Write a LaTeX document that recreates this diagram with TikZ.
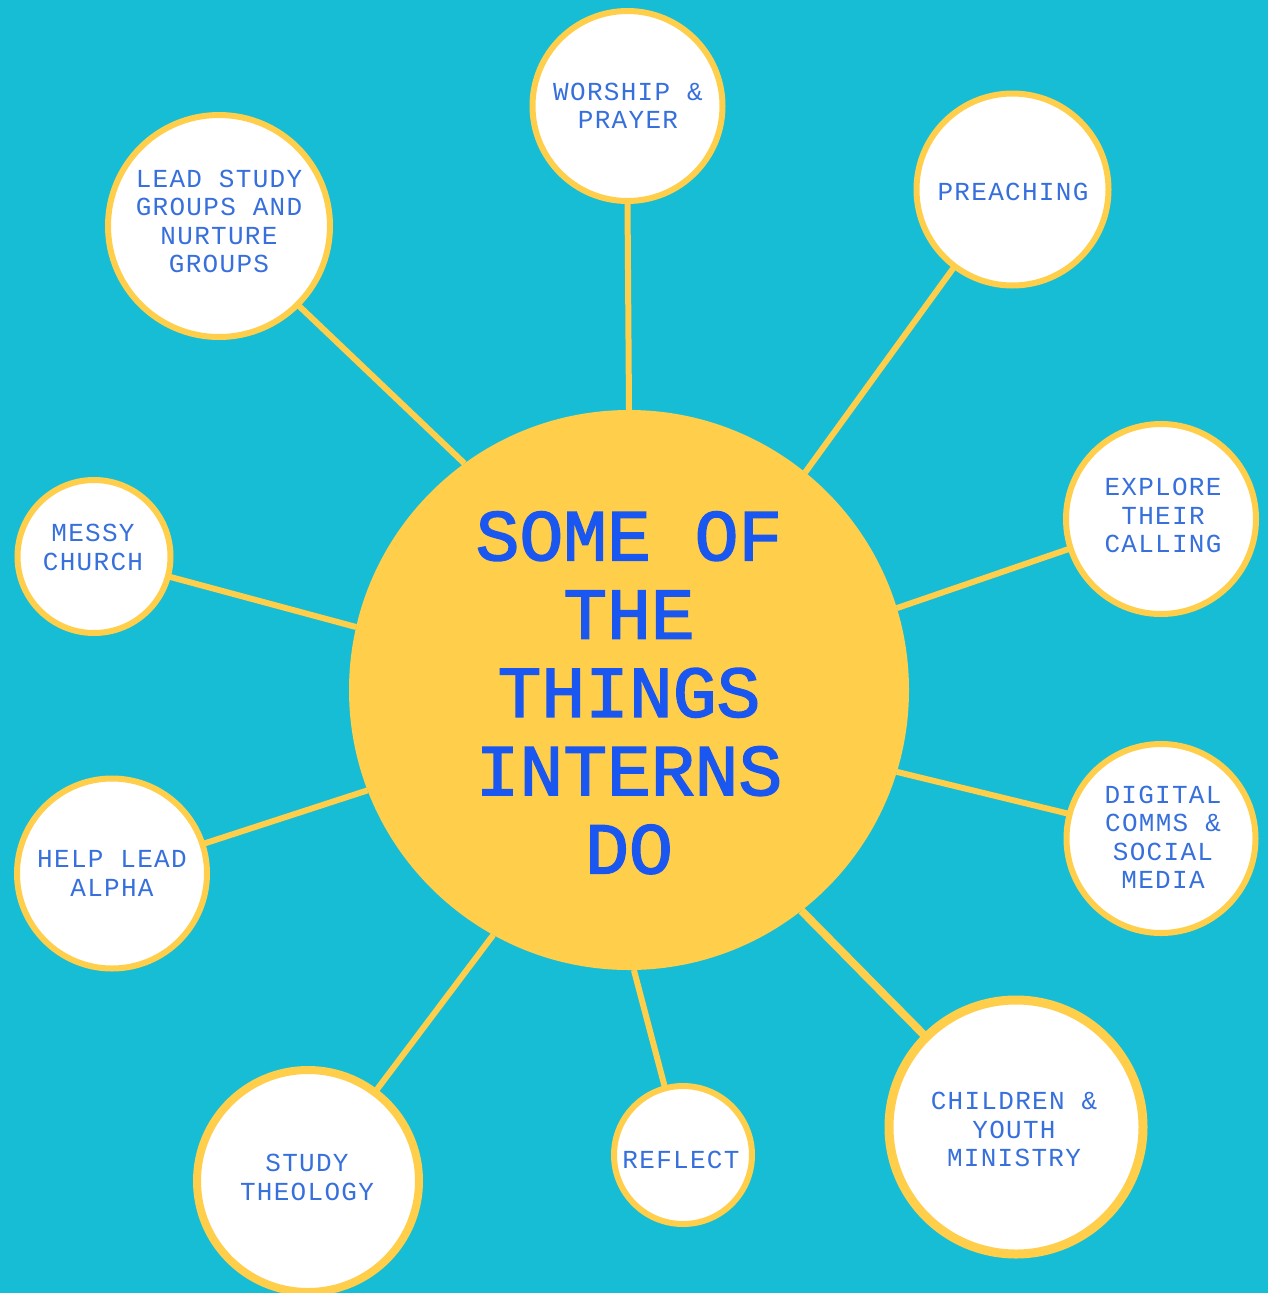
\documentclass[tikz,border=0pt]{standalone}
\usepackage{fontspec}
\newfontfamily\smallmono[LetterSpace=5]{Liberation Mono}
\newfontfamily\bigmono[FakeBold=2]{Liberation Mono}
\definecolor{bgc}{RGB}{23,189,212}
\definecolor{sun}{RGB}{255,206,75}
\definecolor{ink}{RGB}{55,112,220}
\definecolor{deep}{RGB}{25,87,240}
\pgfdeclarelayer{back}
\pgfsetlayers{back,main}
\begin{document}
\begin{tikzpicture}[x=1pt,y=-1pt,
  item/.style={circle, draw=sun, fill=white, line width=6pt, inner sep=0pt, outer sep=0pt},
  txt/.style={inner sep=0pt, text=ink, align=center, font=\smallmono\fontsize{26}{28.5}\selectfont},
  hub/.style={circle, fill=sun, inner sep=0pt, outer sep=0pt, minimum size=560pt},
  hubtxt/.style={inner sep=0pt, text=deep, align=center, font=\bigmono\fontsize{73}{78.3}\selectfont},
  spoke/.style={draw=sun, line width=6pt}]
\useasboundingbox (0,0) rectangle (1268,1293);

\node[hub] (hub) at (629,690) {};
\node[hubtxt] (hubt) at (629,692.8) {SOME OF\\THE\\THINGS\\INTERNS\\DO};

\node[item, minimum size=190pt] (worship) at (627.5,106) {};
\node[txt] (worshipt) at (628,106) {WORSHIP \&\\PRAYER};

\node[item, minimum size=192pt] (preach) at (1012.5,189.5) {};
\node[txt] (preacht) at (1013,192) {PREACHING};

\node[item, minimum size=222pt] (lead) at (219,226) {};
\node[txt] (leadt) at (219,221.5) {LEAD STUDY\\GROUPS AND\\NURTURE\\GROUPS};

\node[item, minimum size=190pt] (explore) at (1161,519) {};
\node[txt] (exploret) at (1163,515.5) {EXPLORE\\THEIR\\CALLING};

\node[item, minimum size=153pt] (messy) at (94,556.5) {};
\node[txt] (messyt) at (93,547.5) {MESSY\\CHURCH};

\node[item, minimum size=189pt] (digital) at (1161,838.5) {};
\node[txt] (digitalt) at (1163,837.5) {DIGITAL\\COMMS \&\\SOCIAL\\MEDIA};

\node[item, minimum size=190pt] (alpha) at (112,873.5) {};
\node[txt] (alphat) at (112,873.5) {HELP LEAD\\ALPHA};

\node[item, minimum size=222pt, line width=8pt] (theo) at (308,1181) {};
\node[txt] (theot) at (307,1177.5) {STUDY\\THEOLOGY};

\node[item, minimum size=138pt] (reflect) at (683,1155) {};
\node[txt] (reflectt) at (681,1159.5) {REFLECT};

\node[item, minimum size=254pt, line width=9pt] (child) at (1016,1127) {};
\node[txt] (childt) at (1014,1129.5) {CHILDREN \&\\YOUTH\\MINISTRY};

\begin{pgfonlayer}{back}
\fill[bgc] (0,0) rectangle (1268,1293);
\draw[spoke] (hub.90.3) -- (worship.-90);
\draw[spoke] (hub.51.75) -- (preach.-127.2);
\draw[spoke] (hub.126.5) -- (lead.-45);
\draw[spoke] (hub.17.3) -- (explore.-162.9);
\draw[spoke] (hub.167.2) -- (messy.-15.6);
\draw[spoke] (hub.-17.7) -- (digital.165.1);
\draw[spoke] (hub.-159.3) -- (alpha.18.7);
\draw[spoke] (hub.-119.5) -- (theo.53.4);
\draw[spoke] (hub.-89.2) -- (reflect.105.9);
\draw[spoke, line width=8pt] (hub.-52.2) -- (child.135.3);
\end{pgfonlayer}
\end{tikzpicture}
\end{document}
